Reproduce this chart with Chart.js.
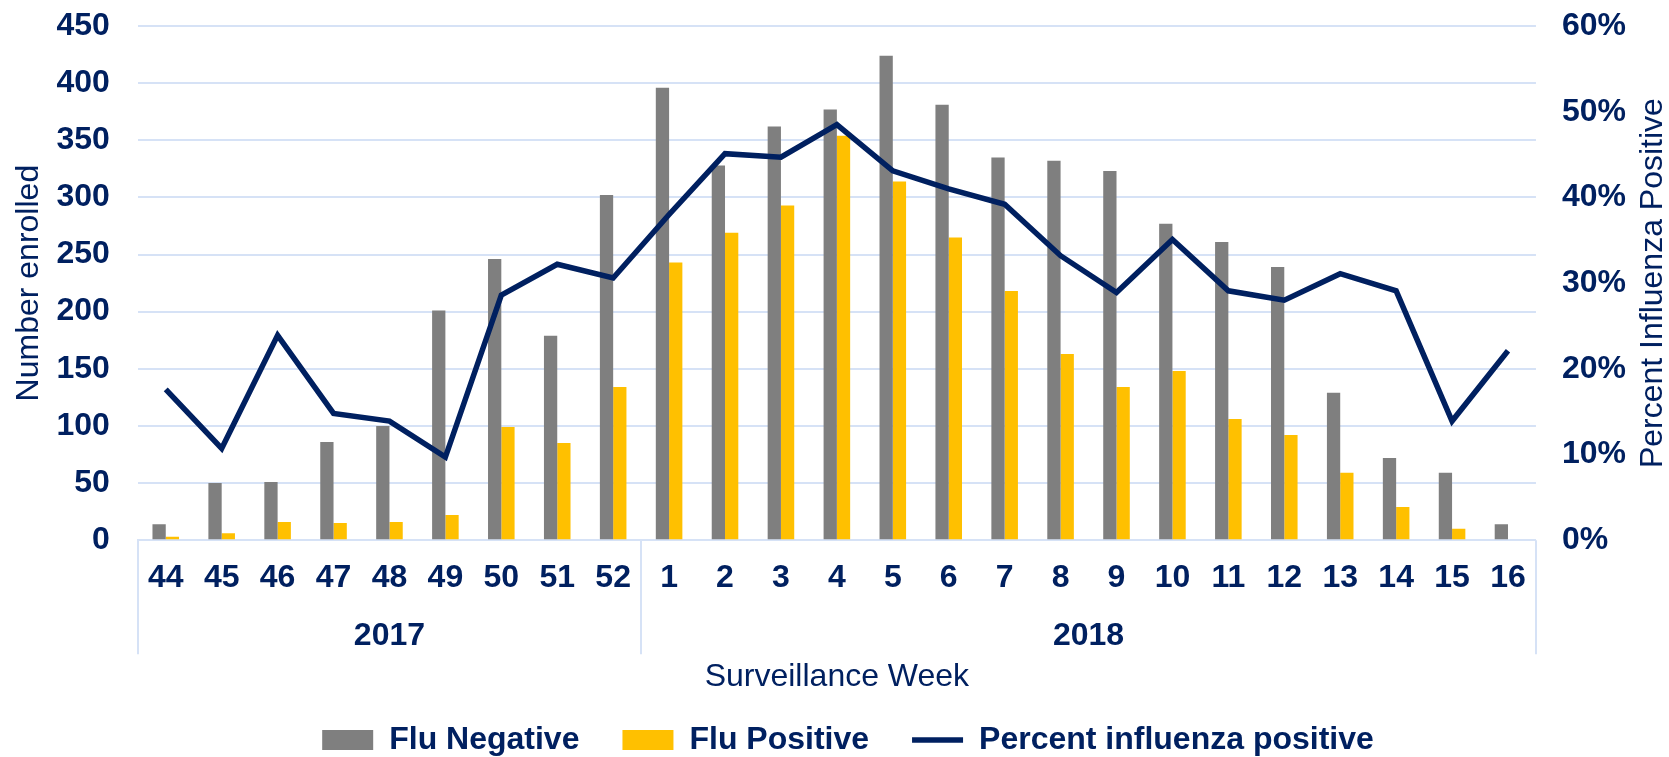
<!DOCTYPE html>
<html><head><meta charset="utf-8">
<script src="https://cdn.jsdelivr.net/npm/chart.js@4.4.1/dist/chart.umd.min.js"></script>
<style>html,body{margin:0;padding:0;background:#fff;overflow:hidden}</style>
</head><body>
<canvas id="c" width="1669" height="757"></canvas>
<script>
const weeks = ['44','45','46','47','48','49','50','51','52','1','2','3','4','5','6','7','8','9','10','11','12','13','14','15','16'];
const yearLabels = ['2017','2018'];
const weeksPerYear = [9, 16];
const fluNegative = [14, 50, 51, 86, 100, 201, 246, 179, 302, 396, 328, 362, 377, 424, 381, 335, 332, 323, 277, 261, 239, 129, 72, 59, 14];
const fluPositive = [3, 6, 16, 15, 16, 22, 99, 85, 134, 243, 269, 293, 354, 314, 265, 218, 163, 134, 148, 106, 92, 59, 29, 10, 0];
const percentPositive = [17.6, 10.7, 23.9, 14.8, 13.9, 9.7, 28.6, 32.2, 30.6, 38.0, 45.1, 44.7, 48.5, 43.1, 41.0, 39.2, 33.2, 28.9, 35.1, 29.1, 28.0, 31.1, 29.1, 13.9, 22.1];
const seriesNames = ['Flu Negative', 'Flu Positive', 'Percent influenza positive'];
const xTitle = 'Surveillance Week';
const yLeftTitle = 'Number enrolled';
const yRightTitle = 'Percent Influenza Positive';

const NAVY = '#002060';
const GRID = '#D6E2F6';
const CLEAR = 'rgba(0,0,0,0)';
const FONT = "'Liberation Sans', Arial, Helvetica, sans-serif";

const extrasPlugin = {
  id: 'extras',
  afterLayout(chart) {
    // centre the legend row like the reference
    chart.legend.left += 35;
    chart.legend.right += 35;
  },
  afterDraw(chart) {
    const x = chart.scales.x;
    const ctx = chart.ctx;
    const area = chart.chartArea;
    ctx.save();
    ctx.strokeStyle = GRID;
    ctx.lineWidth = 2;
    const lineBottom = x.top + 114;
    let start = 0;
    const edges = [x.getPixelForValue(-0.5)];
    ctx.fillStyle = NAVY;
    ctx.font = 'bold 32px ' + FONT;
    ctx.textAlign = 'center';
    ctx.textBaseline = 'middle';
    weeksPerYear.forEach((n, i) => {
      const l = x.getPixelForValue(start - 0.5);
      const r = x.getPixelForValue(start + n - 0.5);
      edges.push(r);
      ctx.fillText(yearLabels[i], (l + r) / 2, x.top + 96);
      start += n;
    });
    edges.forEach(e => {
      const px = Math.round(e);
      ctx.beginPath();
      ctx.moveTo(px, x.top);
      ctx.lineTo(px, lineBottom);
      ctx.stroke();
    });
    // right axis title (reads bottom to top)
    ctx.font = '32px ' + FONT;
    ctx.translate(chart.width - 16, (area.top + area.bottom) / 2);
    ctx.rotate(-Math.PI / 2);
    ctx.fillText(yRightTitle, 0, 0);
    ctx.restore();
  }
};

new Chart(document.getElementById('c'), {
  type: 'bar',
  data: {
    labels: weeks,
    datasets: [
      { label: seriesNames[0], data: fluNegative, backgroundColor: '#7F7F7F', yAxisID: 'y', pointStyle: 'rect', categoryPercentage: 0.475, barPercentage: 1.0, order: 1 },
      { label: seriesNames[1], data: fluPositive, backgroundColor: '#FFC000', yAxisID: 'y', pointStyle: 'rect', categoryPercentage: 0.475, barPercentage: 1.0, order: 2 },
      { type: 'line', label: seriesNames[2], data: percentPositive, yAxisID: 'y1', borderColor: NAVY, backgroundColor: NAVY, borderWidth: 5.5, pointRadius: 0, pointHoverRadius: 0, pointStyle: 'line', tension: 0, order: 0 }
    ]
  },
  options: {
    responsive: false,
    animation: false,
    layout: { padding: { top: 26, right: 43, left: 0, bottom: -9 } },
    plugins: {
      tooltip: { enabled: false },
      legend: {
        position: 'bottom',
        labels: {
          usePointStyle: true,
          pointStyleWidth: 51,
          boxWidth: 51,
          boxHeight: 20,
          padding: 43,
          color: NAVY,
          font: { family: FONT, size: 32, weight: 'bold' },
          sort: (a, b) => a.datasetIndex - b.datasetIndex
        }
      }
    },
    scales: {
      x: {
        grid: { display: true, drawOnChartArea: false, drawTicks: true, tickLength: 19, tickColor: CLEAR, color: CLEAR },
        border: { display: true, color: GRID, width: 2 },
        ticks: { color: NAVY, font: { family: FONT, size: 32, weight: 'bold', lineHeight: 1.2 }, padding: 0, autoSkip: false, maxRotation: 0 },
        title: { display: true, text: xTitle, color: NAVY, font: { family: FONT, size: 32, lineHeight: 1.2 }, padding: { top: 60, bottom: -15 } }
      },
      y: {
        position: 'left',
        min: 0, max: 450,
        ticks: { stepSize: 50, color: NAVY, font: { family: FONT, size: 32, weight: 'bold', lineHeight: 1.2 }, padding: 0 },
        grid: { color: GRID, lineWidth: 2, drawTicks: true, tickLength: 28, tickColor: CLEAR },
        border: { display: false },
        title: { display: true, text: yLeftTitle, color: NAVY, font: { family: FONT, size: 32, lineHeight: 1.2 }, padding: { top: 10, bottom: 8 } }
      },
      y1: {
        position: 'right',
        min: 0, max: 60,
        ticks: { stepSize: 10, color: NAVY, font: { family: FONT, size: 32, weight: 'bold', lineHeight: 1.2 }, padding: 0, callback: v => v + '%' },
        grid: { drawOnChartArea: false, drawTicks: true, tickLength: 26, tickColor: CLEAR },
        border: { display: false }
      }
    }
  },
  plugins: [extrasPlugin]
});
</script>
</body></html>
